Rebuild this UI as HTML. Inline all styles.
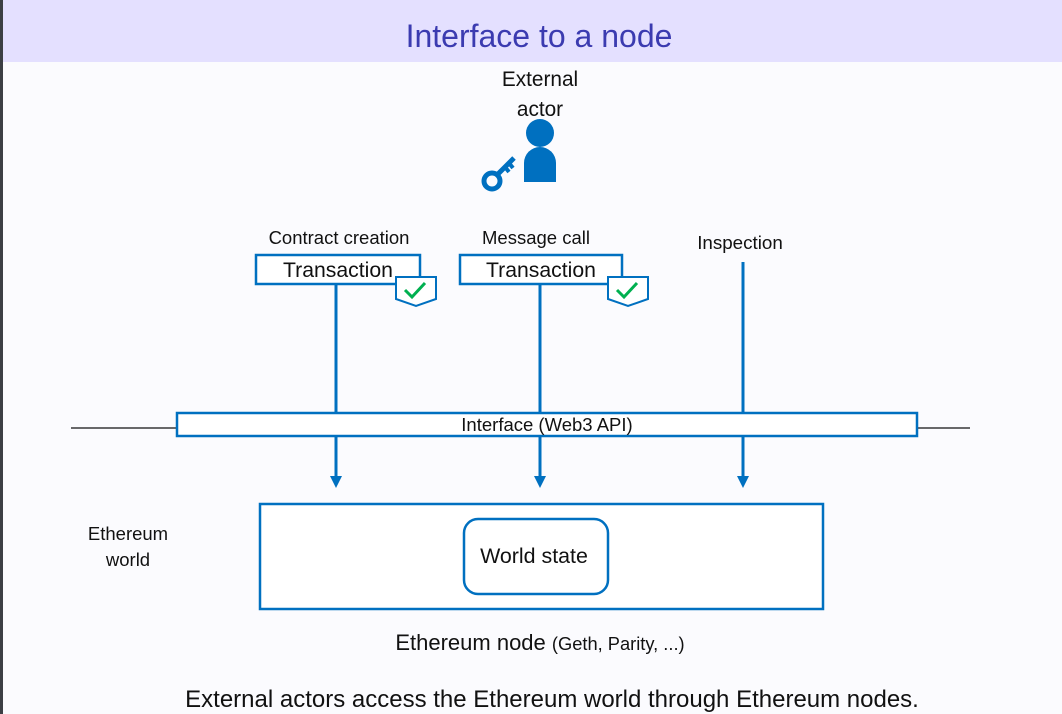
<!DOCTYPE html>
<html><head><style>
html,body{margin:0;padding:0;width:1062px;height:714px;overflow:hidden;background:#fbfbfe;}
svg{display:block;font-family:"Liberation Sans",sans-serif;}
</style></head><body>
<svg width="1062" height="714" viewBox="0 0 1062 714">
<rect x="0" y="0" width="1062" height="714" fill="#fbfbfe"/>
<rect x="0" y="0" width="1062" height="62" fill="#e4e0ff"/>
<rect x="0" y="0" width="3" height="714" fill="#3c3f44"/>
<text x="539" y="47" font-size="32" fill="#3b3bb0" text-anchor="middle">Interface to a node</text>
<text x="540" y="86" font-size="20.8" text-anchor="middle" fill="#111">External</text>
<text x="540" y="116" font-size="20.8" text-anchor="middle" fill="#111">actor</text>
<circle cx="540" cy="133" r="14" fill="#0070c0"/>
<path d="M524 182 V163 a16 16 0 0 1 32 0 V182 Z" fill="#0070c0"/>
<circle cx="492" cy="181" r="8" fill="none" stroke="#0070c0" stroke-width="5"/>
<line x1="497" y1="175" x2="514" y2="158" stroke="#0070c0" stroke-width="5"/>
<line x1="509" y1="163" x2="513" y2="168" stroke="#0070c0" stroke-width="4"/>
<line x1="505" y1="167" x2="509" y2="172" stroke="#0070c0" stroke-width="4"/>
<text x="339" y="244" font-size="18.5" text-anchor="middle" fill="#111">Contract creation</text>
<text x="536" y="244" font-size="18.5" text-anchor="middle" fill="#111">Message call</text>
<text x="740" y="249" font-size="18.8" text-anchor="middle" fill="#111">Inspection</text>
<g stroke="#0070c0" stroke-width="3">
<line x1="336" y1="285" x2="336" y2="413"/>
<line x1="540" y1="285" x2="540" y2="413"/>
<line x1="743" y1="262" x2="743" y2="413"/>
<line x1="336" y1="436" x2="336" y2="478"/>
<line x1="540" y1="436" x2="540" y2="478"/>
<line x1="743" y1="436" x2="743" y2="478"/>
</g>
<g fill="#0070c0">
<path d="M330 476 h12 l-6 12 Z"/><path d="M534 476 h12 l-6 12 Z"/><path d="M737 476 h12 l-6 12 Z"/>
</g>
<rect x="256" y="255" width="164" height="29" fill="#fff" stroke="#0070c0" stroke-width="2.5"/>
<text x="338" y="277" font-size="21.2" text-anchor="middle" fill="#111">Transaction</text>
<rect x="460" y="255" width="162" height="29" fill="#fff" stroke="#0070c0" stroke-width="2.5"/>
<text x="541" y="277" font-size="21.2" text-anchor="middle" fill="#111">Transaction</text>
<path d="M396 277 h40 v22 l-20 7 l-20 -7 Z" fill="#fff" stroke="#0070c0" stroke-width="2"/>
<path d="M405 290 l7 7 l13 -14" fill="none" stroke="#00b050" stroke-width="3"/>
<path d="M608 277 h40 v22 l-20 7 l-20 -7 Z" fill="#fff" stroke="#0070c0" stroke-width="2"/>
<path d="M617 290 l7 7 l13 -14" fill="none" stroke="#00b050" stroke-width="3"/>
<line x1="71" y1="428" x2="970" y2="428" stroke="#111" stroke-width="1.3"/>
<rect x="177" y="413" width="740" height="23" fill="#fff" stroke="#0070c0" stroke-width="2.5"/>
<text x="547" y="431" font-size="18.5" text-anchor="middle" fill="#111">Interface (Web3 API)</text>
<text x="128" y="540" font-size="18.5" text-anchor="middle" fill="#111">Ethereum</text>
<text x="128" y="566" font-size="18.5" text-anchor="middle" fill="#111">world</text>
<rect x="260" y="504" width="563" height="105" fill="#fff" stroke="#0070c0" stroke-width="2.5"/>
<rect x="464" y="519" width="144" height="75" rx="14" fill="#fff" stroke="#0070c0" stroke-width="2.5"/>
<text x="534" y="563" font-size="21.4" text-anchor="middle" fill="#111">World state</text>
<text x="540" y="650" font-size="22" text-anchor="middle" fill="#111">Ethereum node <tspan font-size="18.3">(Geth, Parity, ...)</tspan></text>
<text x="552" y="707" font-size="24" text-anchor="middle" fill="#111">External actors access the Ethereum world through Ethereum nodes.</text>
</svg>
</body></html>
